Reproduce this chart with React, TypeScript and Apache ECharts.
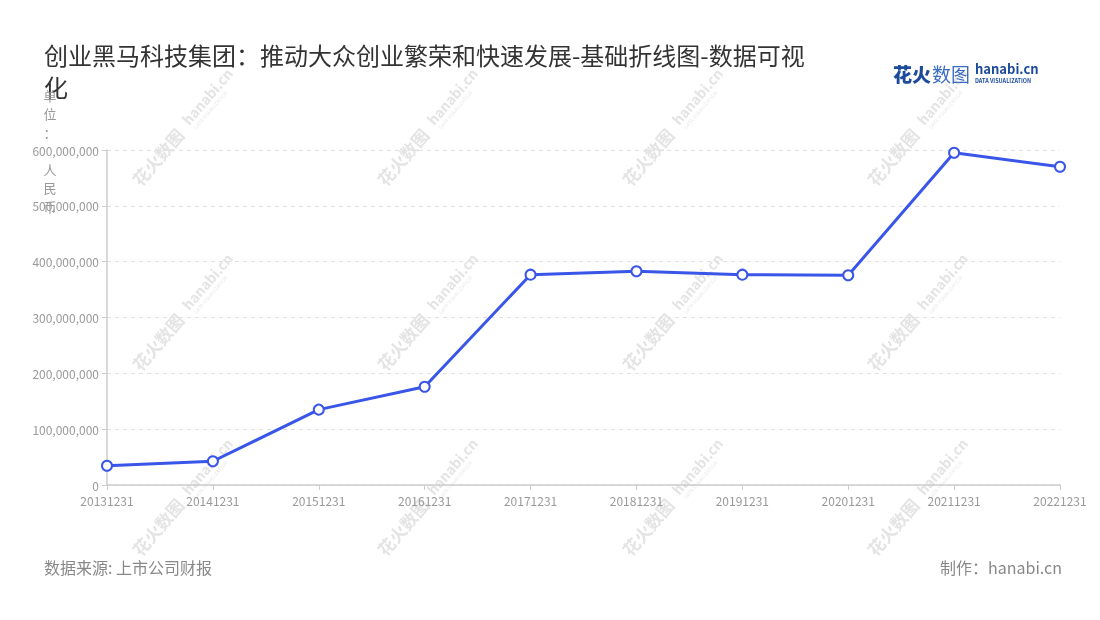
import React, {useRef, useEffect} from 'react';
import * as echarts from 'echarts';

const dates = [
    '20131231',
    '20141231',
    '20151231',
    '20161231',
    '20171231',
    '20181231',
    '20191231',
    '20201231',
    '20211231',
    '20221231'
];
const revenue = [
    34500000, 42500000, 135000000, 176000000, 376700000, 382800000, 376700000, 375600000, 595000000, 570000000
];

const titleText = '创业黑马科技集团：推动大众创业繁荣和快速发展-基础折线图-数据可视化';
const unitText = '单\n位\n：\n\n人\n民\n币';
const sourceText = '数据来源: 上市公司财报';
const makerText = '制作：hanabi.cn';

const BLUE = '#3a56e8';
const GREY = '#999';
const FONT = '"Noto Sans CJK SC", "Noto Sans", sans-serif';

// watermark grid
const wmCols = [185, 430, 675, 920];
const wmRows = [125, 310, 495];

const watermark = (x: number, y: number) => ({
    type: 'group',
    x,
    y,
    rotation: 0.86,
    silent: true,
    z: 0,
    children: [
        {
            type: 'text',
            x: -76,
            y: 0,
            style: {
                text: '花火数图',
                fill: '#e4e4e4',
                font: `bold 17px ${FONT}`,
                verticalAlign: 'middle'
            }
        },
        {
            type: 'text',
            x: 2,
            y: -2,
            style: {
                text: 'hanabi.cn',
                fill: '#e4e4e4',
                font: `bold 14px ${FONT}`,
                verticalAlign: 'middle'
            }
        },
        {
            type: 'text',
            x: 4,
            y: 9,
            style: {
                text: 'DATA VISUALIZATION',
                fill: '#e8e8e8',
                font: `5px ${FONT}`,
                verticalAlign: 'middle'
            }
        }
    ]
});

const App = () => {
    const ref = useRef<HTMLDivElement>(null);

    useEffect(() => {
        const chart = echarts.init(ref.current as HTMLDivElement, undefined, {renderer: 'svg'});
        const marks: any[] = [];
        wmRows.forEach(y => wmCols.forEach(x => marks.push(watermark(x, y))));

        chart.setOption({
            animation: false,
            textStyle: {fontFamily: FONT},
            title: {
                text: titleText,
                left: 44,
                top: 38,
                padding: 0,
                textStyle: {
                    fontSize: 24,
                    fontWeight: 'normal',
                    color: '#333',
                    lineHeight: 32,
                    width: 770,
                    overflow: 'break',
                    fontFamily: FONT
                }
            },
            grid: {left: 107, right: 40, top: 150, bottom: 135, containLabel: false},
            xAxis: {
                type: 'category',
                data: dates,
                boundaryGap: false,
                axisLine: {lineStyle: {color: '#ccc', width: 1.5}},
                axisTick: {show: true, lineStyle: {color: '#ccc'}, length: 5},
                axisLabel: {color: GREY, fontSize: 12, margin: 9, interval: 0}
            },
            yAxis: {
                type: 'value',
                min: 0,
                max: 600000000,
                interval: 100000000,
                axisLine: {show: true, lineStyle: {color: '#ccc', width: 1.5}},
                axisTick: {show: true, lineStyle: {color: '#ccc'}, length: 5},
                axisLabel: {
                    color: GREY,
                    fontSize: 12,
                    margin: 8,
                    formatter: (v: number) => v.toLocaleString('en-US')
                },
                splitLine: {lineStyle: {color: '#e0e0e0', type: [4, 4]}}
            },
            series: [
                {
                    type: 'line',
                    data: revenue,
                    z: 5,
                    symbol: 'emptyCircle',
                    symbolSize: 10,
                    showAllSymbol: true,
                    lineStyle: {color: BLUE, width: 3},
                    itemStyle: {color: BLUE, borderColor: BLUE, borderWidth: 2}
                }
            ],
            graphic: [
                ...marks,
                {
                    type: 'text',
                    x: 50,
                    y: 86,
                    z: 10,
                    style: {
                        text: unitText,
                        fill: GREY,
                        font: `13px ${FONT}`,
                        lineHeight: 18.5,
                        align: 'center'
                    }
                },
                {
                    type: 'text',
                    x: 44,
                    y: 567,
                    style: {
                        text: sourceText,
                        fill: '#888',
                        font: `16px ${FONT}`,
                        verticalAlign: 'middle'
                    }
                },
                {
                    type: 'text',
                    x: 1062,
                    y: 567,
                    style: {
                        text: makerText,
                        fill: '#888',
                        font: `16px ${FONT}`,
                        align: 'right',
                        verticalAlign: 'middle'
                    }
                },
                // logo
                {
                    type: 'text',
                    x: 893,
                    y: 73,
                    style: {
                        text: '花火',
                        fill: '#1d4b9b',
                        font: `900 19px ${FONT}`,
                        verticalAlign: 'middle'
                    }
                },
                {
                    type: 'text',
                    x: 932,
                    y: 73,
                    style: {
                        text: '数图',
                        fill: '#3a6cc0',
                        font: `19px ${FONT}`,
                        verticalAlign: 'middle'
                    }
                },
                {
                    type: 'text',
                    x: 975,
                    y: 68,
                    style: {
                        text: 'hanabi.cn',
                        fill: '#1d4b9b',
                        font: `bold 13px ${FONT}`,
                        verticalAlign: 'middle'
                    }
                },
                {
                    type: 'text',
                    x: 975,
                    y: 81,
                    style: {
                        text: 'DATA VISUALIZATION',
                        fill: '#1d4b9b',
                        font: `bold 5.5px ${FONT}`,
                        verticalAlign: 'middle'
                    }
                }
            ]
        });
        return () => chart.dispose();
    }, []);

    return <div ref={ref} style={{position: 'fixed', left: 0, top: 0, width: 1100, height: 620}} />;
};

export default App;
